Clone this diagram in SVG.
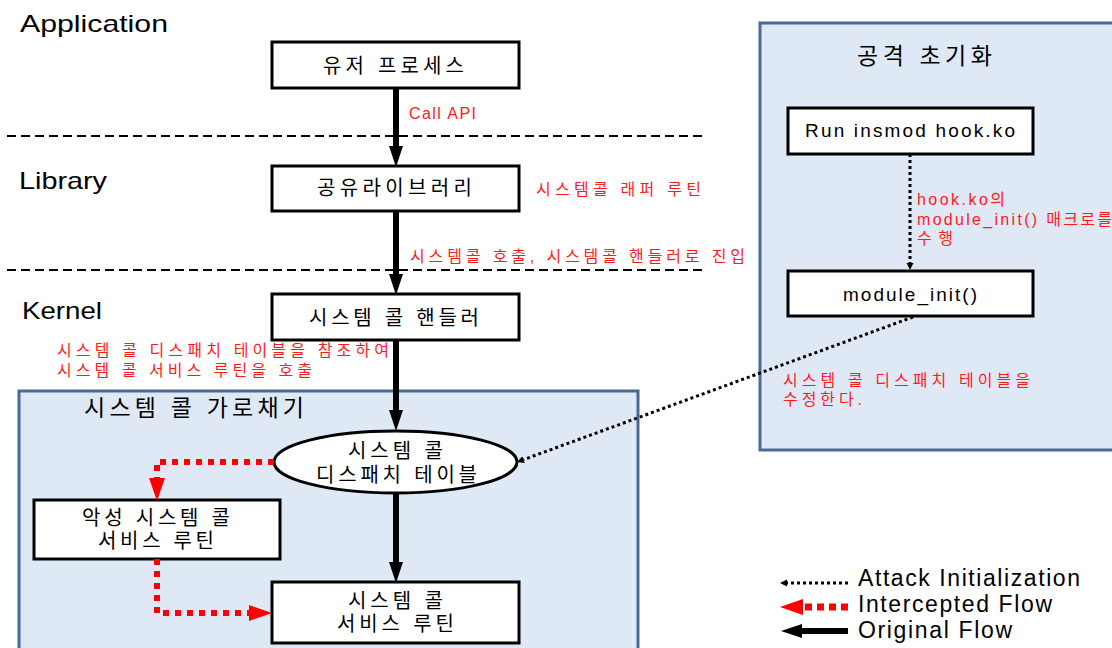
<svg xmlns="http://www.w3.org/2000/svg" width="1112" height="648" viewBox="0 0 1112 648">
<style>
text{font-family:"Liberation Sans","Noto Sans CJK KR",sans-serif;fill:#000}
.lbl{font-size:24px}
.box{fill:#fff;stroke:#000;stroke-width:3}
.bt{font-size:20px}
.red{fill:#ff1a1a;font-size:16px}
.grp{fill:#dfe9f6;stroke:#4a6a96;stroke-width:3}
.ttl{font-size:23px}
.sep{stroke:#000;stroke-width:2;stroke-dasharray:9 5;fill:none}
.main{stroke:#000;stroke-width:6;fill:none}
.icp{stroke:#ff0000;stroke-width:6;stroke-dasharray:6 6;fill:none}
.atk{stroke:#000;stroke-width:3;stroke-dasharray:3 3;fill:none}
.leg{font-size:23px}
</style>
<defs>
<marker id="hMain" markerUnits="userSpaceOnUse" markerWidth="22" markerHeight="16" refX="0" refY="8" orient="auto"><path d="M0,1 L21,8 L0,15 z" fill="#000"/></marker>
<marker id="hRed" markerUnits="userSpaceOnUse" markerWidth="24" markerHeight="18" refX="0" refY="9" orient="auto"><path d="M0,1 L23,9 L0,17 z" fill="#ff0000"/></marker>
<marker id="hAtk" markerUnits="userSpaceOnUse" markerWidth="8" markerHeight="8" refX="0" refY="4" orient="auto"><path d="M0,0.5 L7,4 L0,7.5 z" fill="#000"/></marker>
</defs>

<g id="layers">
<line class="sep" x1="7" y1="136" x2="705" y2="136"/>
<line class="sep" x1="7" y1="270" x2="705" y2="270"/>
<text class="lbl" x="20" y="32" textLength="148" lengthAdjust="spacingAndGlyphs">Application</text>
<text class="lbl" x="19" y="189" textLength="88" lengthAdjust="spacingAndGlyphs">Library</text>
<text class="lbl" x="22" y="319" textLength="80" lengthAdjust="spacingAndGlyphs">Kernel</text>
</g>

<g id="group-intercept">
<rect class="grp" x="19" y="391" width="619" height="270"/>
<text class="ttl" x="84" y="416" textLength="220">시스템 콜 가로채기</text>
</g>

<g id="group-attack-init">
<rect class="grp" x="760" y="23" width="370" height="427"/>
<text class="ttl" x="857" y="64" textLength="135">공격 초기화</text>
</g>

<g id="node-user-process">
<rect class="box" x="272" y="42" width="247" height="46"/>
<text class="bt" x="323" y="73" textLength="141">유저 프로세스</text>
</g>

<g id="node-shared-lib">
<rect class="box" x="272" y="166" width="247" height="45"/>
<text class="bt" x="317" y="195" textLength="155">공유라이브러리</text>
</g>

<g id="node-syscall-handler">
<rect class="box" x="272" y="294" width="247" height="46"/>
<text class="bt" x="309" y="325" textLength="170">시스템 콜 핸들러</text>
</g>

<g id="node-dispatch-table">
<ellipse cx="395.5" cy="462" rx="121.5" ry="31" fill="#fff" stroke="#000" stroke-width="3"/>
<text class="bt"><tspan x="348" y="458" textLength="95">시스템 콜</tspan><tspan x="316" y="482" textLength="161">디스패치 테이블</tspan></text>
</g>

<g id="node-malicious-routine">
<rect class="box" x="34" y="500" width="246" height="59"/>
<text class="bt"><tspan x="82" y="525" textLength="148">악성 시스템 콜</tspan><tspan x="98" y="548" textLength="116">서비스 루틴</tspan></text>
</g>

<g id="node-service-routine">
<rect class="box" x="272" y="582" width="247" height="61"/>
<text class="bt"><tspan x="348" y="608" textLength="95">시스템 콜</tspan><tspan x="337" y="631" textLength="117">서비스 루틴</tspan></text>
</g>

<g id="node-insmod">
<rect class="box" x="788" y="108" width="245" height="46"/>
<text x="805" y="137" font-size="19" textLength="210">Run insmod hook.ko</text>
</g>

<g id="node-module-init">
<rect class="box" x="788" y="271" width="245" height="45"/>
<text x="843" y="301" font-size="19" textLength="134">module_init()</text>
</g>

<g id="connectors">
<path class="main" d="M396,88 V146" marker-end="url(#hMain)"/>
<path class="main" d="M396,211 V274" marker-end="url(#hMain)"/>
<path class="main" d="M396,340 V410" marker-end="url(#hMain)"/>
<path class="main" d="M396,493 V562" marker-end="url(#hMain)"/>
<path class="icp" d="M274,462 H157 V478" marker-end="url(#hRed)"/>
<path class="icp" d="M157,559 V613 H249" marker-end="url(#hRed)"/>
<path class="atk" d="M910,154 V263" marker-end="url(#hAtk)"/>
<path class="atk" d="M913,317 L523.6,459.6" marker-end="url(#hAtk)"/>
</g>

<g id="labels">
<text class="red" x="409" y="119" textLength="67">Call API</text>
<text class="red" x="536" y="195" textLength="165">시스템콜 래퍼 루틴</text>
<text class="red" x="410" y="262" textLength="335">시스템콜 호출, 시스템콜 핸들러로 진입</text>
<text class="red"><tspan x="57" y="356" textLength="332">시스템 콜 디스패치 테이블을 참조하여</tspan><tspan x="57" y="376" textLength="255">시스템 콜 서비스 루틴을 호출</tspan></text>
<text class="red"><tspan x="917" y="205" textLength="88">hook.ko의</tspan><tspan x="917" y="224.5" textLength="195">module_init() 매크로를</tspan><tspan x="917" y="244" textLength="36">수행</tspan></text>
<text class="red"><tspan x="783" y="385.5" textLength="247">시스템 콜 디스패치 테이블을</tspan><tspan x="783" y="405" textLength="79">수정한다.</tspan></text>
</g>

<g id="legend">
<path class="atk" d="M848,583 H787" marker-end="url(#hAtk)"/>
<path d="M848,607 H803" stroke="#ff0000" stroke-width="7" stroke-dasharray="7 5" fill="none" marker-end="url(#hRed)"/>
<path class="main" d="M848,631 H802" marker-end="url(#hMain)"/>
<text class="leg" x="858" y="586" textLength="222">Attack Initialization</text>
<text class="leg" x="858" y="612" textLength="194">Intercepted Flow</text>
<text class="leg" x="858" y="638" textLength="154">Original Flow</text>
</g>
</svg>
